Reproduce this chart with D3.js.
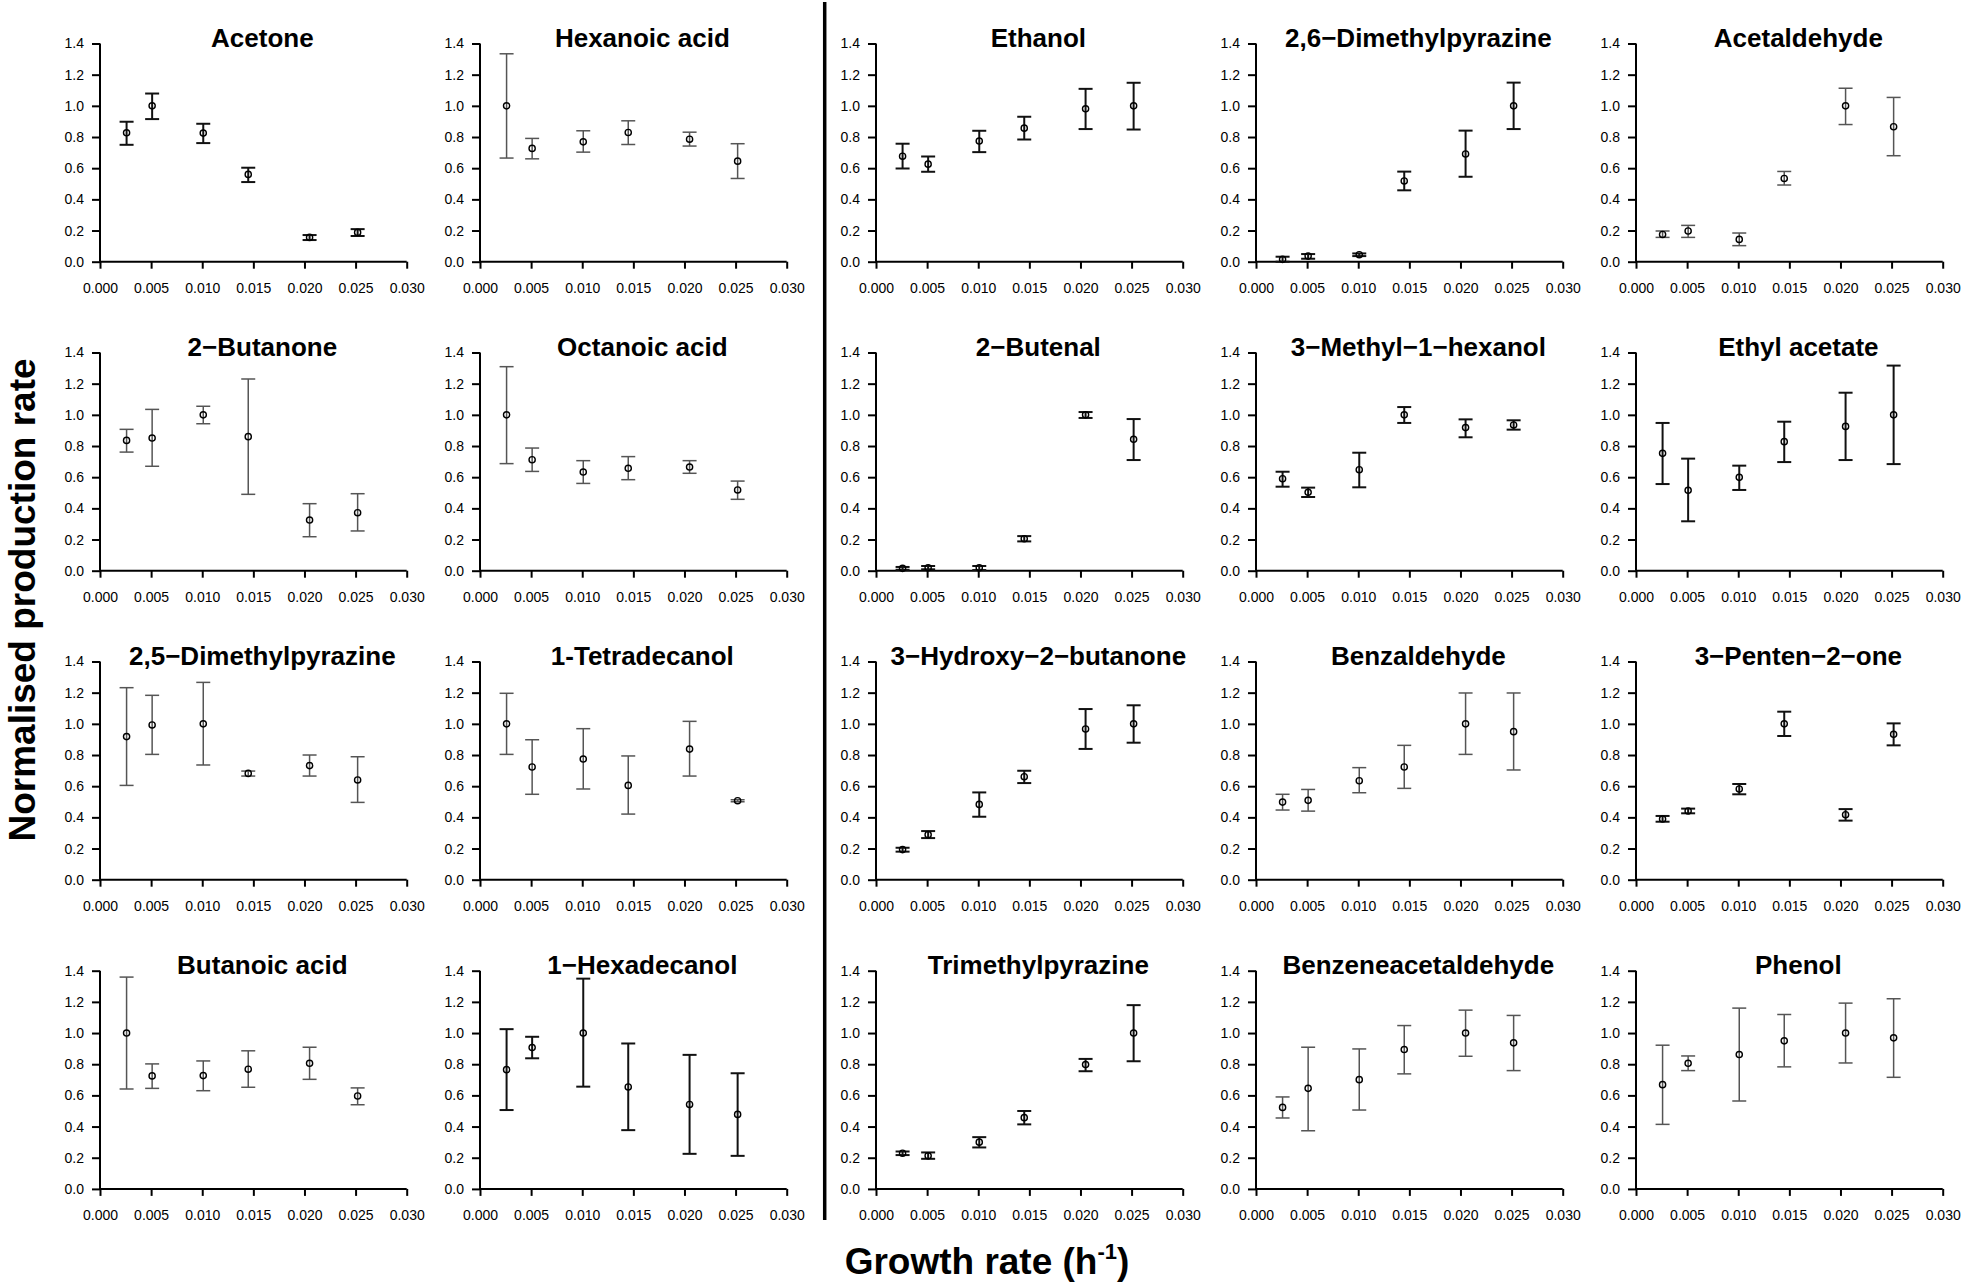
<!DOCTYPE html>
<html>
<head>
<meta charset="utf-8">
<script src="https://cdn.jsdelivr.net/npm/d3@7"></script>
<style>
  html, body { margin: 0; padding: 0; background: #fff; }
  svg { display: block; }
  text { font-family: "Liberation Sans", Arial, Helvetica, sans-serif; }
</style>
</head>
<body>
<script>
// ---------------- DATA ----------------
const growthRates = [0.0026, 0.0051, 0.0101, 0.0145, 0.0205, 0.0252];
const xTicks = [0, 0.005, 0.010, 0.015, 0.020, 0.025, 0.030];
const yTicks = [0, 0.2, 0.4, 0.6, 0.8, 1.0, 1.2, 1.4];

const compounds = [
  "Acetone", "Hexanoic acid", "Ethanol", "2,6\u2212Dimethylpyrazine", "Acetaldehyde",
  "2\u2212Butanone", "Octanoic acid", "2\u2212Butenal", "3\u2212Methyl\u22121\u2212hexanol", "Ethyl acetate",
  "2,5\u2212Dimethylpyrazine", "1-Tetradecanol", "3\u2212Hydroxy\u22122\u2212butanone", "Benzaldehyde", "3\u2212Penten\u22122\u2212one",
  "Butanoic acid", "1\u2212Hexadecanol", "Trimethylpyrazine", "Benzeneacetaldehyde", "Phenol"
];

const means = [
  [0.827, 1.000, 0.825, 0.560, 0.156, 0.188],
  [1.000, 0.727, 0.769, 0.829, 0.786, 0.645],
  [0.677, 0.626, 0.774, 0.857, 0.981, 1.000],
  [0.015, 0.036, 0.045, 0.518, 0.691, 1.000],
  [0.175, 0.197, 0.143, 0.534, 1.000, 0.866],
  [0.836, 0.851, 1.000, 0.860, 0.325, 0.372],
  [1.000, 0.712, 0.633, 0.657, 0.665, 0.518],
  [0.015, 0.019, 0.019, 0.205, 1.000, 0.843],
  [0.590, 0.503, 0.648, 1.000, 0.918, 0.935],
  [0.753, 0.516, 0.599, 0.828, 0.926, 1.000],
  [0.918, 0.993, 1.000, 0.682, 0.732, 0.640],
  [1.000, 0.723, 0.774, 0.605, 0.838, 0.507],
  [0.193, 0.289, 0.483, 0.661, 0.967, 1.000],
  [0.498, 0.509, 0.635, 0.723, 1.000, 0.950],
  [0.389, 0.441, 0.582, 1.000, 0.417, 0.933],
  [1.000, 0.725, 0.727, 0.768, 0.806, 0.596],
  [0.765, 0.907, 1.000, 0.654, 0.542, 0.478],
  [0.229, 0.212, 0.300, 0.457, 0.798, 1.000],
  [0.523, 0.645, 0.701, 0.894, 1.000, 0.937],
  [0.669, 0.806, 0.862, 0.950, 1.000, 0.969]
];

const lowerBounds = [
  [0.750, 0.915, 0.761, 0.511, 0.139, 0.165],
  [0.665, 0.660, 0.703, 0.752, 0.742, 0.534],
  [0.598, 0.577, 0.703, 0.784, 0.851, 0.848],
  [0.000, 0.019, 0.036, 0.458, 0.545, 0.851],
  [0.156, 0.156, 0.103, 0.492, 0.880, 0.680],
  [0.761, 0.670, 0.943, 0.490, 0.218, 0.255],
  [0.687, 0.637, 0.560, 0.584, 0.625, 0.458],
  [0.006, 0.009, 0.004, 0.188, 0.980, 0.710],
  [0.539, 0.473, 0.535, 0.948, 0.856, 0.905],
  [0.556, 0.317, 0.518, 0.697, 0.710, 0.684],
  [0.605, 0.804, 0.736, 0.665, 0.665, 0.496],
  [0.804, 0.548, 0.582, 0.421, 0.665, 0.500],
  [0.180, 0.267, 0.404, 0.620, 0.839, 0.879],
  [0.447, 0.440, 0.558, 0.586, 0.804, 0.704],
  [0.372, 0.426, 0.548, 0.922, 0.379, 0.862],
  [0.641, 0.645, 0.630, 0.652, 0.703, 0.540],
  [0.506, 0.838, 0.656, 0.377, 0.225, 0.212],
  [0.217, 0.193, 0.266, 0.414, 0.755, 0.819],
  [0.455, 0.373, 0.506, 0.738, 0.851, 0.759],
  [0.414, 0.759, 0.564, 0.783, 0.808, 0.716]
];

const upperBounds = [
  [0.898, 1.079, 0.885, 0.603, 0.171, 0.209],
  [1.334, 0.791, 0.840, 0.904, 0.831, 0.757],
  [0.757, 0.675, 0.840, 0.930, 1.109, 1.148],
  [0.032, 0.049, 0.053, 0.578, 0.841, 1.149],
  [0.197, 0.233, 0.184, 0.579, 1.113, 1.054],
  [0.907, 1.035, 1.055, 1.230, 0.430, 0.494],
  [1.309, 0.787, 0.706, 0.732, 0.706, 0.575],
  [0.024, 0.030, 0.030, 0.222, 1.018, 0.973],
  [0.635, 0.533, 0.757, 1.050, 0.971, 0.965],
  [0.948, 0.719, 0.674, 0.956, 1.142, 1.316],
  [1.232, 1.183, 1.266, 0.697, 0.800, 0.789],
  [1.196, 0.898, 0.969, 0.794, 1.016, 0.513],
  [0.205, 0.312, 0.560, 0.699, 1.095, 1.119],
  [0.548, 0.579, 0.719, 0.862, 1.198, 1.198],
  [0.409, 0.456, 0.614, 1.078, 0.453, 1.003],
  [1.359, 0.802, 0.821, 0.886, 0.909, 0.648],
  [1.025, 0.976, 1.349, 0.933, 0.860, 0.742],
  [0.240, 0.234, 0.332, 0.500, 0.834, 1.179],
  [0.590, 0.909, 0.898, 1.048, 1.147, 1.113],
  [0.922, 0.853, 1.160, 1.119, 1.192, 1.220]
];

const xAxisTitle = "Growth rate (h";
const xAxisSup = "-1";
const yAxisTitle = "Normalised production rate";

// ---------------- LAYOUT / STYLE ----------------
const W = 1961, H = 1287;
const colX = [100, 480, 876, 1256, 1636];
const rowTop = [43.5, 352.5, 661.5, 970.7];
const plotW = 306.7, plotH = 218.2;
const darkPanels = new Set([0, 2, 3, 7, 8, 9, 12, 14, 16, 17]);

const svg = d3.select("body").append("svg")
  .attr("width", W).attr("height", H)
  .attr("viewBox", `0 0 ${W} ${H}`);

svg.append("rect").attr("width", W).attr("height", H).attr("fill", "#fff");

const fmtX = d3.format(".3f");
const fmtY = d3.format(".1f");

compounds.forEach((name, i) => {
  const r = Math.floor(i / 5), c = i % 5;
  const g = svg.append("g").attr("transform", `translate(${colX[c]},${rowTop[r]})`);
  const x = d3.scaleLinear().domain([0, 0.03]).range([0, plotW]);
  const y = d3.scaleLinear().domain([0, 1.4]).range([plotH, 0]);

  // Y axis
  const ya = g.append("g").call(d3.axisLeft(y).tickValues(yTicks).tickFormat(fmtY).tickSize(8).tickPadding(8));
  ya.select(".domain").attr("d", `M0,${y(0)}V${y(1.4)}`).attr("stroke", "#000").attr("stroke-width", 2);
  ya.selectAll(".tick line").attr("stroke", "#000").attr("stroke-width", 2);
  ya.selectAll(".tick text").attr("font-size", 14).attr("fill", "#000")
    .attr("font-family", "Liberation Sans, Arial, sans-serif");

  // X axis
  const xa = g.append("g").attr("transform", `translate(0,${plotH})`)
    .call(d3.axisBottom(x).tickValues(xTicks).tickFormat(fmtX).tickSize(7).tickPadding(14));
  xa.select(".domain").attr("d", `M${x(0)},0H${x(0.03)}`).attr("stroke", "#000").attr("stroke-width", 2);
  xa.selectAll(".tick line").attr("stroke", "#000").attr("stroke-width", 2);
  xa.selectAll(".tick text").attr("font-size", 14).attr("fill", "#000")
    .attr("font-family", "Liberation Sans, Arial, sans-serif");

  // Title
  g.append("text")
    .attr("x", plotW / 2 + 9).attr("y", 3)
    .attr("text-anchor", "middle")
    .attr("font-size", 26).attr("font-weight", "bold")
    .text(name);

  const dark = darkPanels.has(i);
  const col = dark ? "#111" : "#555";
  const sw = dark ? 2 : 1.5;
  const capHalf = 7;

  const pts = growthRates.map((gr, k) => ({ gr, m: means[i][k], lo: lowerBounds[i][k], hi: upperBounds[i][k] }));
  const eb = g.append("g");
  eb.selectAll("line.stem").data(pts).join("line")
    .attr("x1", d => x(d.gr)).attr("x2", d => x(d.gr))
    .attr("y1", d => y(d.lo)).attr("y2", d => y(d.hi))
    .attr("stroke", col).attr("stroke-width", sw);
  eb.selectAll("line.capTop").data(pts).join("line")
    .attr("x1", d => x(d.gr) - capHalf).attr("x2", d => x(d.gr) + capHalf)
    .attr("y1", d => y(d.hi)).attr("y2", d => y(d.hi))
    .attr("stroke", col).attr("stroke-width", sw);
  const eb2 = g.append("g");
  eb2.selectAll("line").data(pts).join("line")
    .attr("x1", d => x(d.gr) - capHalf).attr("x2", d => x(d.gr) + capHalf)
    .attr("y1", d => y(d.lo)).attr("y2", d => y(d.lo))
    .attr("stroke", col).attr("stroke-width", sw);

  g.append("g").selectAll("circle").data(pts).join("circle")
    .attr("cx", d => x(d.gr)).attr("cy", d => y(d.m)).attr("r", 3.1)
    .attr("fill", "none").attr("stroke", "#000").attr("stroke-width", 1.4);
});

// Divider
svg.append("line").attr("x1", 824.7).attr("x2", 824.7).attr("y1", 2).attr("y2", 1220)
  .attr("stroke", "#000").attr("stroke-width", 3.5);

// Axis titles
const xt = svg.append("text").attr("x", 987).attr("y", 1274).attr("text-anchor", "middle")
  .attr("font-size", 37).attr("font-weight", "bold");
xt.append("tspan").text(xAxisTitle);
xt.append("tspan").attr("font-size", 22).attr("dy", -15).text(xAxisSup);
xt.append("tspan").attr("dy", 15).text(")");

svg.append("text")
  .attr("transform", "translate(35,600) rotate(-90)")
  .attr("text-anchor", "middle")
  .attr("font-size", 37).attr("font-weight", "bold")
  .text(yAxisTitle);
</script>
</body>
</html>
